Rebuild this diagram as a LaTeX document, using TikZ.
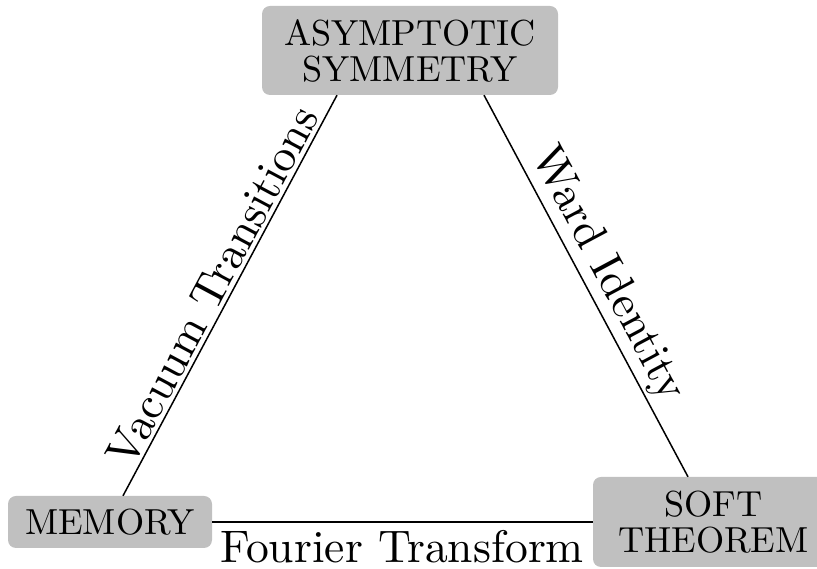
\documentclass[tikz,border=0pt]{standalone}
\usepackage{fontspec}
\setmainfont{lmroman10-regular.otf}
\usetikzlibrary{calc}
\definecolor{boxgray}{RGB}{192,192,192}
\begin{document}
\begin{tikzpicture}[x=1pt,y=1pt,
  box/.style={fill=boxgray, rounded corners=8pt, align=center, inner sep=0pt, font=\fontsize{36.2}{36}\selectfont},
  conn/.style={line width=1.5pt},
  elabel/.style={font=\fontsize{45.6}{50}\selectfont, inner sep=3pt}]
\useasboundingbox (0,0) rectangle (817,569);
\clip (0,0) rectangle (817,569);
\node[box, minimum width=296, minimum height=89] (top) at (410,518.5) {ASYMPTOTIC\\SYMMETRY};
\node[box, minimum width=204, minimum height=52] (mem) at (110,47) {MEMORY};
\node[box, minimum width=241, minimum height=90] (soft) at (713.5,47) {SOFT\\THEOREM};
\draw[conn] ([xshift=-73pt]top.south) -- node[elabel, sloped, above, pos=0.5] (lblV) {Vacuum Transitions} ([xshift=13pt]mem.north);
\draw[conn] ([xshift=74pt]top.south) -- node[elabel, sloped, above, pos=0.5] (lblW) {Ward Identity} ([xshift=-25.5pt]soft.north);
\draw[conn] (mem.east) -- (soft.west);
\node[elabel, anchor=base, inner sep=0pt] (lblF) at (402,6) {Fourier Transform};
\end{tikzpicture}
\end{document}
